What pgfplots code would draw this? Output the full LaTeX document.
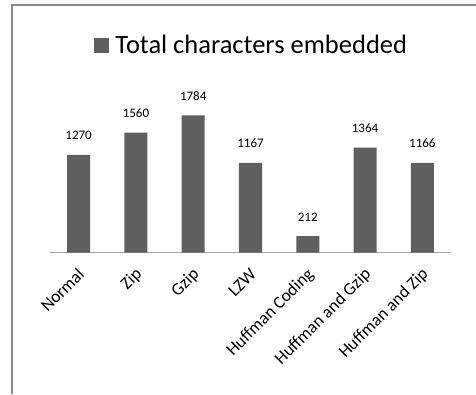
\documentclass[border=0pt]{standalone}
\usepackage{pgfplots}
\pgfplotsset{compat=1.18}
\usepackage{fontspec}
\setmainfont{Carlito}
\definecolor{barc}{HTML}{5F5F5F}
\definecolor{framec}{HTML}{8C8C8C}
\definecolor{axc}{HTML}{A6A6A6}
\begin{document}
\begin{tikzpicture}[x=1pt,y=1pt]
\path[use as bounding box] (0,0) rectangle (476,394);
\draw[framec, line width=1.3pt] (12,0) -- (12,389) -- (476,389);
\begin{axis}[
  at={(50pt,141.5pt)}, anchor=south west,
  scale only axis, width=401pt, height=153.8pt,
  ybar, bar width=23pt,
  xmin=-0.5, xmax=6.5, ymin=0, ymax=2000,
  axis y line=none, axis x line*=bottom,
  x axis line style={axc, line width=1.5pt, -},
  xtick=data,
  xticklabels={Normal,Zip,Gzip,LZW,Huffman Coding,Huffman and Gzip,Huffman and Zip},
  major tick length=0pt,
  xticklabel style={font=\fontsize{17.5}{19}\selectfont, inner sep=0pt, text height=0.72em, text depth=0.22em, xshift=1.5pt, yshift=-17.5pt, rotate=45, anchor=north east},
  clip=false,
  /pgf/number format/.cd, 1000 sep={}, assume math mode=true, /pgfplots/.cd,
  nodes near coords,
  every node near coord/.append style={font=\fontsize{13}{15}\selectfont, black, anchor=base, inner sep=0pt, yshift=15pt},
  legend style={at={(axis description cs:0.5,1)}, anchor=center, yshift=53.2pt, draw=none, fill=none, font=\fontsize{26.5}{30}\selectfont, inner sep=0pt,
    nodes={inner sep=0pt}, /tikz/every even column/.append style={column sep=0pt}},
  legend image code/.code={\fill[barc] (0pt,-7.5pt) rectangle (15.5pt,8pt); \path (21.5pt,0pt);},
]
\addplot[fill=barc, draw=none] coordinates {(0,1270) (1,1560) (2,1784) (3,1167) (4,212) (5,1364) (6,1166)};
\addlegendentry{Total characters embedded}
\end{axis}
\end{tikzpicture}
\end{document}
